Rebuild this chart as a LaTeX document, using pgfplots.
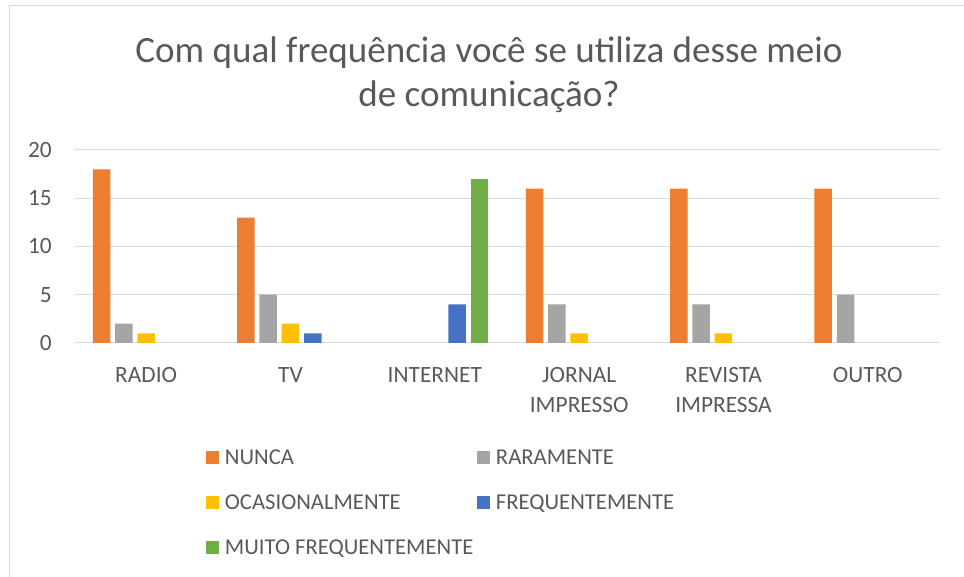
\documentclass[border=0pt]{standalone}
\usepackage{fontspec}
\setmainfont{Carlito}
\usepackage{pgfplots}
\pgfplotsset{compat=1.18}
\definecolor{txt}{HTML}{595959}
\definecolor{gridc}{HTML}{D9D9D9}
\definecolor{cNunca}{HTML}{ED7D31}
\definecolor{cRara}{HTML}{A5A5A5}
\definecolor{cOcas}{HTML}{FFC000}
\definecolor{cFreq}{HTML}{4472C4}
\definecolor{cMuito}{HTML}{70AD47}
\newcommand{\legbox}[1]{\makebox[189pt][l]{#1}}
\begin{document}
\begin{tikzpicture}[x=0.75pt,y=0.75pt]
\useasboundingbox (-74,-234) rectangle (890,343);
\draw[gridc, line width=0.75pt] (-64,-234) -- (-64,337) -- (890,337);
\node[anchor=base, font=\fontsize{27.8}{34}\selectfont, text=txt, inner sep=0pt] at (415,280) {Com qual frequência você se utiliza desse meio};
\node[anchor=base, font=\fontsize{27.8}{34}\selectfont, text=txt, inner sep=0pt] at (415,236) {de comunicação?};
\begin{axis}[
  at={(0,0)}, anchor=south west,
  scale only axis, width=649.5pt, height=144.75pt,
  ymin=0, ymax=20, ytick={0,5,10,15,20},
  xmin=-0.5, xmax=5.5, xtick={0,1,2,3,4,5},
  xticklabels={RADIO,TV,INTERNET,{JORNAL\\IMPRESSO},{REVISTA\\IMPRESSA},OUTRO},
  /pgf/number format/assume math mode=true,
  ybar=3.6pt, bar width=13.125pt,
  axis line style={draw=none},
  major tick length=0pt,
  ymajorgrids, grid style={gridc, line width=0.75pt},
  tick label style={font=\fontsize{17.5}{22.5}\selectfont, text=txt},
  yticklabel style={inner sep=0pt, anchor=east, xshift=-16.5pt},
  xticklabel style={inner sep=0pt, anchor=north, align=center, yshift=-18pt},
  legend columns=2,
  legend style={draw=none, fill=none, inner sep=0pt, outer sep=0pt,
    at={(0.1524,-0.553)}, anchor=north west,
    font=\fontsize{17}{22}\selectfont, text=txt,
    row sep=22.75pt,
    nodes={inner sep=0pt, text height=11pt, text depth=0pt},
    /tikz/every odd column/.append style={column sep=4.5pt},
    /tikz/every even column/.append style={column sep=0pt},
  },
  legend cell align=left,
  legend image code/.code={\fill[#1] (0pt,-4.875pt) rectangle (9.75pt,4.875pt);},
]
\addplot[fill=cNunca, draw=none] coordinates {(0,18) (1,13) (3,16) (4,16) (5,16)};
\addplot[fill=cRara, draw=none] coordinates {(0,2) (1,5) (3,4) (4,4) (5,5)};
\addplot[fill=cOcas, draw=none] coordinates {(0,1) (1,2) (3,1) (4,1)};
\addplot[fill=cFreq, draw=none] coordinates {(1,1) (2,4)};
\addplot[fill=cMuito, draw=none] coordinates {(2,17)};
\legend{\legbox{NUNCA},\legbox{RARAMENTE},\legbox{OCASIONALMENTE},\legbox{FREQUENTEMENTE},\legbox{MUITO FREQUENTEMENTE}}
\end{axis}
\end{tikzpicture}
\end{document}
